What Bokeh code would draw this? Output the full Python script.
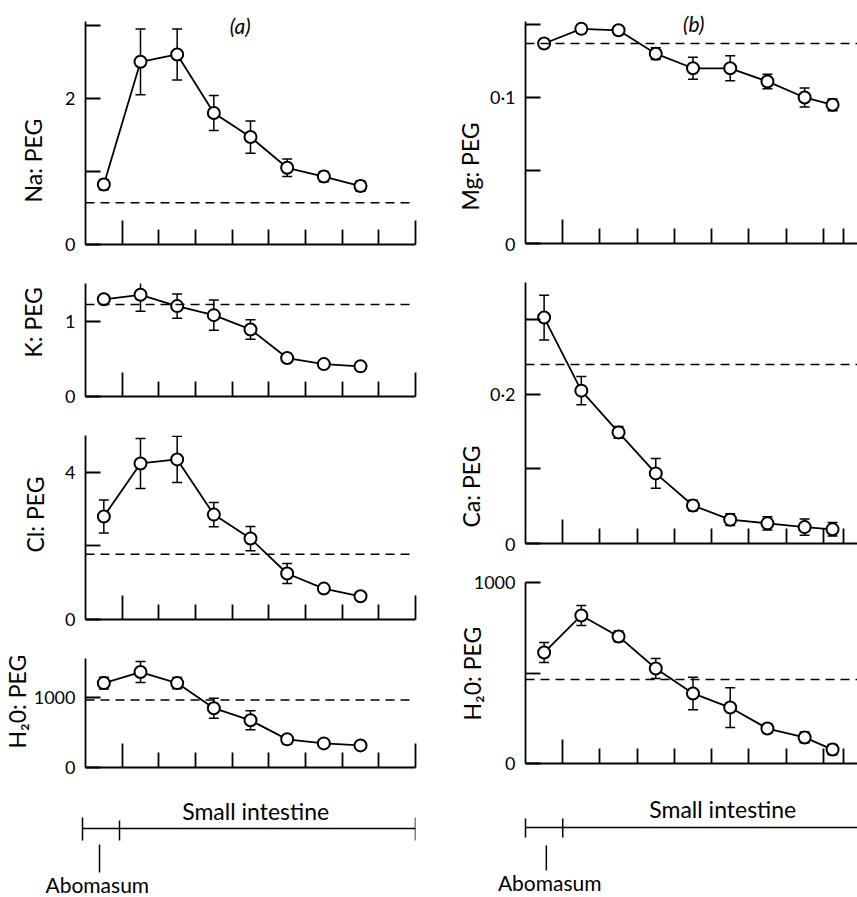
from bokeh.plotting import figure
from bokeh.models import Range1d, FixedTicker, Span, Label, CustomJSTickFormatter
from bokeh.layouts import row, column
from bokeh.embed import file_html
from bokeh.resources import INLINE

FONT = "Lato"

# ---------------- data ----------------
left_x = [0.5, 1.5, 2.5, 3.5, 4.5, 5.5, 6.5, 7.5]
right_x = [0.5, 1.5, 2.5, 3.5, 4.5, 5.5, 6.5, 7.5, 8.25]

na_mean = [0.82, 2.50, 2.60, 1.80, 1.47, 1.05, 0.93, 0.80]
na_err = [0.07, 0.45, 0.35, 0.24, 0.22, 0.12, 0.07, 0.07]
na_ref = 0.57

k_mean = [1.29, 1.35, 1.20, 1.08, 0.89, 0.51, 0.43, 0.40]
k_err = [0.06, 0.22, 0.16, 0.20, 0.13, 0.06, 0.03, 0.02]
k_ref = 1.22

cl_mean = [2.80, 4.24, 4.35, 2.85, 2.20, 1.25, 0.84, 0.63]
cl_err = [0.45, 0.68, 0.63, 0.33, 0.33, 0.27, 0.05, 0.05]
cl_ref = 1.77

h2oa_mean = [1200, 1357, 1200, 843, 671, 400, 343, 314]
h2oa_err = [85, 150, 80, 143, 135, 65, 30, 25]
h2oa_ref = 960

mg_mean = [0.137, 0.147, 0.146, 0.130, 0.120, 0.120, 0.111, 0.100, 0.095]
mg_err = [0.003, 0.003, 0.003, 0.004, 0.0075, 0.0085, 0.005, 0.0065, 0.004]
mg_ref = 0.137

ca_mean = [0.303, 0.205, 0.149, 0.094, 0.051, 0.032, 0.027, 0.022, 0.019]
ca_err = [0.030, 0.019, 0.008, 0.020, 0.007, 0.008, 0.009, 0.011, 0.009]
ca_ref = 0.24

h2ob_mean = [613, 818, 702, 525, 387, 309, 193, 144, 77]
h2ob_err = [55, 55, 30, 55, 90, 110, 25, 30, 28]
h2ob_ref = 464

# x-axis segment ticks (gut sections)
left_major_x = [1, 9]
left_minor_x = [2, 3, 4, 5, 6, 7, 8]
right_major_x = [1]
right_minor_x = [2, 3, 4, 5, 6, 7, 8, 8.55]

region_bounds = [0, 1, 9]
region_names = ["Abomasum", "Small intestine"]

LEFT_W, RIGHT_W = 430, 427
LEFT_BL, LEFT_BR = 82, 15
RIGHT_BL, RIGHT_BR = 95, 0
LEFT_XEND, RIGHT_XEND = 9, 8.92

yfmt = CustomJSTickFormatter(code="return String(tick).replace('.', '\u00b7');")
xfmt = CustomJSTickFormatter(code="return '';")


def panel(xs, mean, err, ref, ytop, yend, ymajor, yminor, ylabel, width, height,
          bl, br, bt, bb, xend, xmajor, xminor, lab_standoff, lab_offset):
    p = figure(width=width, height=height, x_range=Range1d(0, xend),
               y_range=Range1d(0, yend), output_backend="svg",
               toolbar_location=None, min_border_left=bl, min_border_right=br,
               min_border_top=bt, min_border_bottom=bb,
               title=ylabel, title_location="left")
    p.outline_line_color = None
    p.grid.visible = False
    p.background_fill_color = "white"
    p.border_fill_color = "white"

    # y-axis label drawn as a side title so it can be shifted along the axis
    t = p.title
    t.align = "left"
    t.offset = lab_offset
    t.standoff = lab_standoff
    t.text_font = FONT
    t.text_font_size = "23px"
    t.text_font_style = "normal"
    t.text_color = "black"

    xa = p.xaxis[0]
    xa.ticker = FixedTicker(ticks=xmajor, minor_ticks=xminor)
    xa.formatter = xfmt
    xa.major_tick_in = 24
    xa.major_tick_out = 0
    xa.minor_tick_in = 15
    xa.minor_tick_out = 0
    xa.major_label_standoff = 0
    ya = p.yaxis[0]
    for a in (xa, ya):
        a.axis_line_width = 1.8
        a.major_tick_line_width = 1.8
        a.minor_tick_line_width = 1.8
        a.axis_line_color = "black"
        a.major_tick_line_color = "black"
        a.minor_tick_line_color = "black"

    ya.bounds = (0, ytop)
    ya.ticker = FixedTicker(ticks=ymajor, minor_ticks=yminor)
    ya.formatter = yfmt
    ya.major_tick_in = 15
    ya.major_tick_out = 0
    ya.minor_tick_in = 15
    ya.minor_tick_out = 0
    ya.major_label_standoff = 10
    ya.major_label_text_font = FONT
    ya.major_label_text_font_size = "18px"
    ya.major_label_text_color = "black"

    p.add_layout(Span(location=ref, dimension="width", line_color="black",
                      line_width=1.5, line_dash="9 6"))

    lo = [m - e for m, e in zip(mean, err)]
    hi = [m + e for m, e in zip(mean, err)]
    p.segment(x0=xs, x1=xs, y0=lo, y1=hi, line_color="black", line_width=1.5)
    p.scatter(xs, lo, marker="dash", size=10, line_color="black", line_width=1.5)
    p.scatter(xs, hi, marker="dash", size=10, line_color="black", line_width=1.5)
    p.line(xs, mean, line_color="black", line_width=1.8)
    p.scatter(xs, mean, marker="circle", size=12, fill_color="white",
              line_color="black", line_width=2)
    return p


def annotation(width, bl, br, xend, scale, text_x, text_y, bracket_y, end_y,
               mid_y, pointer_x, pointer_y, abo_x, abo_y):
    h = 117
    xstart = -bl / scale
    p = figure(width=width, height=h, x_range=Range1d(xstart, xend),
               y_range=Range1d(h, 0), output_backend="svg",
               toolbar_location=None, x_axis_location=None,
               y_axis_location=None, min_border_left=0, min_border_right=br,
               min_border_top=0, min_border_bottom=0)
    p.outline_line_color = None
    p.grid.visible = False
    p.background_fill_color = "white"
    p.border_fill_color = "white"
    # bracket
    p.segment(x0=[region_bounds[0]], x1=[region_bounds[-1]], y0=[bracket_y],
              y1=[bracket_y], line_color="black", line_width=1.5)
    p.segment(x0=region_bounds, x1=region_bounds,
              y0=[end_y[0], mid_y[0], end_y[0]], y1=[end_y[1], mid_y[1], end_y[1]],
              line_color="black", line_width=1.5)
    # abomasum pointer
    p.segment(x0=[pointer_x], x1=[pointer_x], y0=[pointer_y[0]], y1=[pointer_y[1]],
              line_color="black", line_width=1.5)
    p.add_layout(Label(x=text_x, y=text_y, text=region_names[1], text_align="center",
                       text_baseline="middle", text_font=FONT,
                       text_font_size="23px", text_color="black"))
    p.add_layout(Label(x=abo_x, y=abo_y, text=region_names[0], text_align="center",
                       text_baseline="bottom", text_font=FONT,
                       text_font_size="21px", text_color="black"))
    return p


LSCALE = (LEFT_W - LEFT_BL - LEFT_BR) / LEFT_XEND
RSCALE = (RIGHT_W - RIGHT_BL - RIGHT_BR) / RIGHT_XEND

na = panel(left_x, na_mean, na_err, na_ref, 3.05, 3.27, [0, 2], [1, 3], "Na: PEG",
           LEFT_W, 262, LEFT_BL, LEFT_BR, 5, 18, LEFT_XEND, left_major_x,
           left_minor_x, 32, 42)
na.add_layout(Label(x=4.22, y=3.0, text="(a)", text_align="center",
                    text_baseline="middle", text_font=FONT, text_font_size="21px",
                    text_font_style="italic", text_color="black"))
k = panel(left_x, k_mean, k_err, k_ref, 1.5, 1.5, [0, 1], [], "K: PEG",
          LEFT_W, 158, LEFT_BL, LEFT_BR, 21, 24, LEFT_XEND, left_major_x,
          left_minor_x, 32, 39)
cl = panel(left_x, cl_mean, cl_err, cl_ref, 5.0, 5.0, [0, 4], [2], "Cl: PEG",
           LEFT_W, 220, LEFT_BL, LEFT_BR, 15, 21, LEFT_XEND, left_major_x,
           left_minor_x, 27, 67)
h2oa = panel(left_x, h2oa_mean, h2oa_err, h2oa_ref, 1550, 1550, [0, 1000], [],
             "H\u20820: PEG", LEFT_W, 140, LEFT_BL, LEFT_BR, 18, 13, LEFT_XEND,
             left_major_x, left_minor_x, 0, 19)
ann_l = annotation(LEFT_W, LEFT_BL, LEFT_BR, LEFT_XEND, LSCALE, 4.68, 30, 48,
                   (37, 60), (40, 60), 0.46, (64, 92), 0.4, 116)

mg = panel(right_x, mg_mean, mg_err, mg_ref, 0.152, 0.163, [0, 0.1], [0.05, 0.15],
           "Mg: PEG", RIGHT_W, 262, RIGHT_BL, RIGHT_BR, 5, 19, RIGHT_XEND,
           right_major_x, right_minor_x, 6, 33)
mg.add_layout(Label(x=4.52, y=0.151, text="(b)", text_align="center",
                    text_baseline="middle", text_font=FONT, text_font_size="21px",
                    text_font_style="italic", text_color="black"))
ca = panel(right_x, ca_mean, ca_err, ca_ref, 0.35, 0.35, [0, 0.2], [0.1, 0.3],
           "Ca: PEG", RIGHT_W, 303, RIGHT_BL, RIGHT_BR, 20, 22, RIGHT_XEND,
           right_major_x, right_minor_x, 3, 16)
h2ob = panel(right_x, h2ob_mean, h2ob_err, h2ob_ref, 1000, 1000, [0, 1000], [500],
             "H\u20820: PEG", RIGHT_W, 215, RIGHT_BL, RIGHT_BR, 17, 17, RIGHT_XEND,
             right_major_x, right_minor_x, -30, 43)
ann_r = annotation(RIGHT_W, RIGHT_BL, RIGHT_BR, RIGHT_XEND, RSCALE, 5.3, 28, 47,
                   (38, 57), (38, 57), 0.56, (65, 90), 0.65, 114)

top = row(column(na, k, cl, h2oa), column(mg, ca, h2ob))
bottom = row(ann_l, ann_r)
layout = column(top, bottom)

open("out.html", "w", encoding="utf-8").write(file_html(layout, INLINE))
